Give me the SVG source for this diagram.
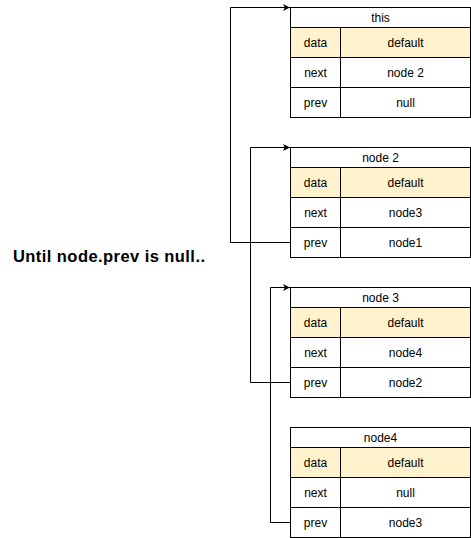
<svg xmlns="http://www.w3.org/2000/svg" width="471" height="538" viewBox="0 0 471 538">
<defs>
<style>
.c{fill:#fff;stroke:#000;stroke-width:1}
.d{fill:#fff2cc;stroke:#000;stroke-width:1}
.t{font-family:"Liberation Sans",Arial,sans-serif;font-size:12px;fill:#000;text-anchor:middle}
.l{fill:none;stroke:#000;stroke-width:1}
</style>
<marker id="ah" markerWidth="8" markerHeight="8" refX="7" refY="4" orient="auto" markerUnits="userSpaceOnUse">
<path d="M0,0.5 L7,4 L0,7.5 L1.8,4 Z" fill="#000"/>
</marker>
<g id="tbl">
<rect class="c" x="0" y="0" width="180" height="20"/>
<rect class="d" x="0" y="20" width="50" height="30"/>
<rect class="d" x="50" y="20" width="130" height="30"/>
<rect class="c" x="0" y="50" width="50" height="30"/>
<rect class="c" x="50" y="50" width="130" height="30"/>
<rect class="c" x="0" y="80" width="50" height="30"/>
<rect class="c" x="50" y="80" width="130" height="30"/>
<text class="t" x="25" y="39.5">data</text>
<text class="t" x="115" y="39.5">default</text>
<text class="t" x="25" y="69.5">next</text>
<text class="t" x="25" y="99.5">prev</text>
</g>
</defs>
<g id="node-this" transform="translate(290.5,7.5)">
<use href="#tbl"/>
<text class="t" x="90" y="14.5">this</text>
<text class="t" x="115" y="69.5">node 2</text>
<text class="t" x="115" y="99.5">null</text>
</g>
<g id="node-2" transform="translate(290.5,147.5)">
<use href="#tbl"/>
<text class="t" x="90" y="14.5">node 2</text>
<text class="t" x="115" y="69.5">node3</text>
<text class="t" x="115" y="99.5">node1</text>
</g>
<g id="node-3" transform="translate(290.5,287.5)">
<use href="#tbl"/>
<text class="t" x="90" y="14.5">node 3</text>
<text class="t" x="115" y="69.5">node4</text>
<text class="t" x="115" y="99.5">node2</text>
</g>
<g id="node-4" transform="translate(290.5,427.5)">
<use href="#tbl"/>
<text class="t" x="90" y="14.5">node4</text>
<text class="t" x="115" y="69.5">null</text>
<text class="t" x="115" y="99.5">node3</text>
</g>
<g id="connectors">
<path class="l" d="M290.5,242.5 H230.5 V7.5 H290" marker-end="url(#ah)"/>
<path class="l" d="M290.5,382.5 H250.5 V147.5 H290" marker-end="url(#ah)"/>
<path class="l" d="M290.5,522.5 H270.5 V287.5 H290" marker-end="url(#ah)"/>
</g>
<g id="label">
<text x="13" y="261.5" textLength="192" lengthAdjust="spacing" style="font-family:'Liberation Sans',Arial,sans-serif;font-size:16.5px;font-weight:bold;fill:#000">Until node.prev is null..</text>
</g>
</svg>
